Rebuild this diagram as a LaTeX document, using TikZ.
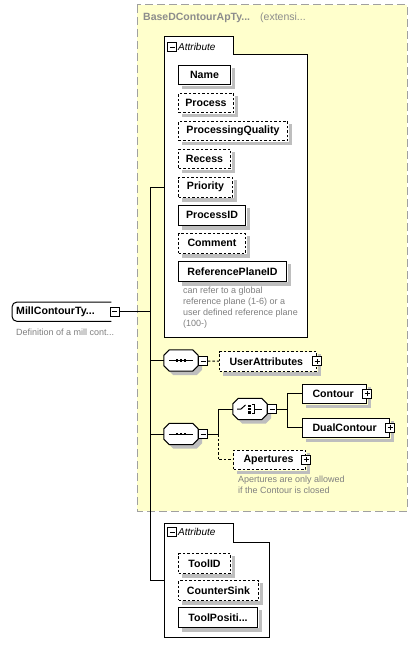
\documentclass[tikz,border=0pt]{standalone}
\usepackage{fontspec}
\setmainfont{Liberation Sans}
\usetikzlibrary{calc}
\definecolor{yel}{HTML}{FFFFCC}
\definecolor{ybd}{HTML}{A0A0A0}
\definecolor{shdc}{HTML}{BEBEBE}
\definecolor{notec}{HTML}{808080}
\definecolor{titlec}{HTML}{8C8C8C}
\tikzset{
 elem/.style={draw, fill=white, line width=1pt, anchor=north west, minimum height=19.5pt, inner sep=0pt, font=\bfseries\fontsize{10.6}{12}\selectfont},
 opt/.style={elem, dash pattern=on 2.5pt off 2pt},
 pel/.style={elem, text width=#1, align=left, inner xsep=10pt},
 popt/.style={pel=#1, dash pattern=on 2.5pt off 2pt},
 mbox/.style={draw, fill=white, minimum size=9pt, inner sep=0pt, line width=0.7pt, solid,
   path picture={\draw[line width=0.8pt] ([xshift=2pt]path picture bounding box.west) -- ([xshift=-2pt]path picture bounding box.east);}},
 pbox/.style={draw, fill=white, minimum size=9pt, inner sep=0pt, line width=0.7pt, solid,
   path picture={\draw[line width=0.8pt] ([xshift=2pt]path picture bounding box.west) -- ([xshift=-2pt]path picture bounding box.east)
     ([yshift=2pt]path picture bounding box.south) -- ([yshift=-2pt]path picture bounding box.north);}},
 octo/.style={rectangle, draw=none, minimum width=34pt, minimum height=21pt, inner sep=0pt},
 rootst/.style={rectangle, draw=none, anchor=north west, minimum height=19pt, text width=91pt, align=left, inner xsep=4pt, inner ysep=0pt, font=\bfseries\fontsize{10.6}{12}\selectfont},
 notes/.style={text=notec, font=\fontsize{9}{11}\selectfont, align=left, anchor=north west, inner sep=0pt},
 tabt/.style={anchor=west, font=\itshape\fontsize{10}{12}\selectfont, inner sep=0pt},
 ln/.style={line width=1pt},
 shadowfill/.style={fill=shdc, draw=none},
}
\newcommand\octpath[2]{($(#1.north west)+(5.5+#2,0+#2)$) -- ($(#1.north east)+(-5.5+#2,0+#2)$) -- ($(#1.north east)+(0+#2,5.5+#2)$) -- ($(#1.south east)+(0+#2,-5.5+#2)$) -- ($(#1.south east)+(-5.5+#2,0+#2)$) -- ($(#1.south west)+(5.5+#2,0+#2)$) -- ($(#1.south west)+(0+#2,-5.5+#2)$) -- ($(#1.north west)+(0+#2,5.5+#2)$) -- cycle}
\newcommand\octdraw[1]{\fill[shdc] \octpath{#1}{4}; \draw[ln, fill=white] \octpath{#1}{0};}
\newcommand\seqsym[1]{\octdraw{#1}
  \draw[ln] ($(#1.west)+(5,0)$) -- ($(#1.east)+(-5,0)$);
  \foreach \d in {-4,0,4} \fill ($(#1.center)+(\d,0)$) +(-1.2,-1.4) rectangle +(1.2,1.4);}
\newcommand\chsym[1]{\octdraw{#1}
  \draw[ln] ($(#1.center)+(-13,0)$) -- ($(#1.center)+(-9,0)$) -- ($(#1.center)+(-4.5,-4)$);
  \foreach \d in {-3.2,0,3.2} \fill ($(#1.center)+(-0.5,\d)$) +(-1.3,-1.3) rectangle +(1.3,1.3);
  \draw[ln] ($(#1.center)+(1.5,-4.5)$) -- ($(#1.center)+(4,-4.5)$) -- ($(#1.center)+(4,4.5)$) -- ($(#1.center)+(1.5,4.5)$);
  \draw[ln] ($(#1.center)+(4,0)$) -- ($(#1.center)+(12,0)$);}
\newcommand\shad[1]{%
  \path[shadowfill] ($(#1.north east)+(0.5,3)$) rectangle ($(#1.south east)+(4,4)$);
  \path[shadowfill] ($(#1.south west)+(3.5,0.5)$) rectangle ($(#1.south east)+(4,4)$);}
\begin{document}
\begin{tikzpicture}[x=1pt,y=-1pt]
\useasboundingbox (0,0) rectangle (418,655);
\fill[white] (0,0) rectangle (418,655);
\draw[fill=yel, draw=ybd, line width=1pt, dash pattern=on 8pt off 4pt] (137,5) rectangle (407,511);
\draw[fill=white, line width=1pt] (164,37) -- (233,37) -- (233,55) -- (307,55) -- (307,337) -- (164,337) -- cycle;
\draw[fill=white, line width=1pt] (164,523) -- (233,523) -- (233,542) -- (269,542) -- (269,637) -- (164,637) -- cycle;
\node[anchor=west, text=titlec, font=\bfseries\fontsize{10.5}{12}\selectfont, inner sep=0pt] (title) at (143,18) {BaseDContourApTy...};
\node[anchor=west, text=titlec, font=\fontsize{10.5}{12}\selectfont, inner sep=0pt] (ext) at (260,18) {(extensi...};
% attribute frame A
\node[mbox] (amA) at (172,47) {};
\node[tabt] (atA) at (178,47) {Attribute};
\coordinate (attrAL) at (164,187);
\node[elem, minimum width=52pt] (name) at (178,65) {Name}; \shad{name}
\node[opt, minimum width=55pt] (process) at (178,93) {Process}; \shad{process}
\node[opt, minimum width=109pt] (pq) at (178,121) {ProcessingQuality}; \shad{pq}
\node[opt, minimum width=52pt] (recess) at (178,149) {Recess}; \shad{recess}
\node[opt, minimum width=54pt] (priority) at (178,177) {Priority}; \shad{priority}
\node[elem, minimum width=67pt] (pid) at (178,205) {ProcessID}; \shad{pid}
\node[opt, minimum width=67pt] (comment) at (178,233) {Comment}; \shad{comment}
\node[elem, minimum width=108pt] (rpid) at (178,261) {ReferencePlaneID}; \shad{rpid}
\node[notes] (rpnote) at (183,287) {can refer to a global\\reference plane (1-6) or a\\user defined reference plane\\(100-)};
% root
\node[rootst] (root) at (12,302) {MillContourTy...};
\draw[ln, rounded corners=5pt] (root.north east) -- (root.north west) -- (root.south west) [sharp corners] -- (root.south east);
\node[mbox] (rootm) at ($(root.east)+(3,0)$) {};
\node[text=notec, font=\fontsize{9}{11}\selectfont, anchor=west, inner sep=0pt] (rootnote) at (16,332) {Definition of a mill cont...};
% trunk
\coordinate (trTop) at (150,187);
\coordinate (trBot) at (150,580);
\draw[ln] (trTop) -- (trBot);
\draw[ln] (trTop) -- (attrAL);
\draw[ln] (rootm.east) -- (rootm.east -| trTop);
% sequence 1
\node[octo] (s1) at (181,360.5) {};
\seqsym{s1}
\node[mbox] (s1m) at (203,361) {};
\node[popt=77pt] (ua) at (219,351) {UserAttributes}; \shad{ua}
\node[pbox] (uap) at (ua.east) {};
\draw[ln] (s1.west -| trTop) -- (s1.west);
\draw[ln, dash pattern=on 2.5pt off 2pt] (s1m.east) -- (ua.west);
% sequence 2
\node[octo] (s2) at (181,434) {};
\seqsym{s2}
\node[mbox] (s2m) at (203,434) {};
\draw[ln] (s2.west -| trTop) -- (s2.west);
\node[octo] (ch) at (250,409) {};
\chsym{ch}
\node[mbox] (chm) at (272,409) {};
\node[pel=44pt] (co) at (302,383.5) {Contour}; \shad{co}
\node[pbox] (cop) at (co.east) {};
\node[pel=67pt] (dc) at (302,417.5) {DualContour}; \shad{dc}
\node[pbox] (dcp) at (dc.east) {};
\node[popt=52pt] (ap) at (233,449.5) {Apertures}; \shad{ap}
\node[pbox] (app) at (ap.east) {};
\node[notes] (apnote) at (238,476) {Apertures are only allowed\\if the Contour is closed};
\coordinate (j1) at (218,434);
\coordinate (j2) at (287,409);
\draw[ln] (s2m.east) -- (j1) |- (ch.west);
\draw[ln, dash pattern=on 2.5pt off 2pt] (j1) |- (ap.west);
\draw[ln] (chm.east) -- (j2);
\draw[ln] (j2) |- (co.west);
\draw[ln] (j2) |- (dc.west);
% attribute frame B
\node[mbox] (amB) at (172,532) {};
\node[tabt] (atB) at (178,532) {Attribute};
\coordinate (attrBL) at (164,580);
\draw[ln] (trBot) -- (attrBL);
\node[opt, minimum width=52pt] (toolid) at (178,553) {ToolID}; \shad{toolid}
\node[opt, minimum width=80pt] (cs) at (178,580) {CounterSink}; \shad{cs}
\node[elem, minimum width=79pt] (tp) at (178,607) {ToolPositi...}; \shad{tp}
\end{tikzpicture}
\end{document}
